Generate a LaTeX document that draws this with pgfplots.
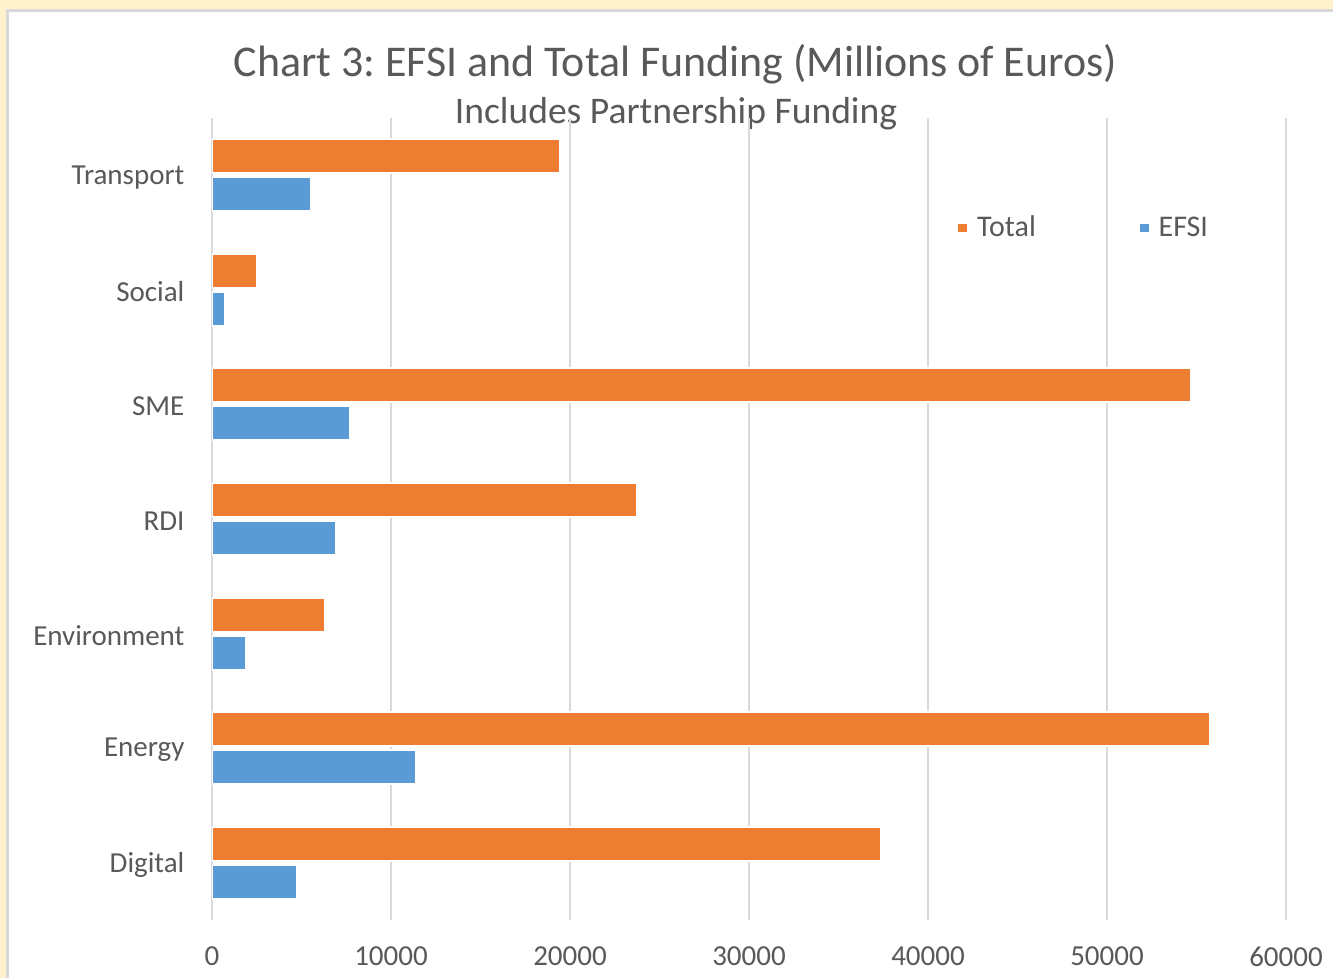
\documentclass[border=0pt]{standalone}
\usepackage{fontspec}
\setmainfont{Carlito}
\usepackage{pgfplots}
\pgfplotsset{compat=1.18}

\definecolor{xlorange}{HTML}{ED7D31}
\definecolor{xlblue}{HTML}{5B9BD5}
\definecolor{xlgrid}{HTML}{D9D9D9}
\definecolor{xltext}{HTML}{595959}
\definecolor{cream}{HTML}{FFF2CC}

\begin{document}
\frenchspacing
\begin{tikzpicture}
% page frame: cream border, thin shadow, white chart area
\path[use as bounding box] (0pt,0pt) rectangle (666.5pt,489pt);
\fill[cream] (0pt,0pt) rectangle (666.5pt,489pt);
\fill[xlgrid] (3pt,0pt) rectangle (666.5pt,484.5pt);
\fill[white] (4.5pt,0pt) rectangle (666.5pt,483pt);

\node[font=\fontsize{21.95}{25}\selectfont, text=xltext] at (337.75pt,457pt) {Chart 3: EFSI and Total Funding (Millions of Euros)};
\node[font=\fontsize{18.8}{21}\selectfont, text=xltext] at (338pt,432pt) {Includes Partnership Funding};

\begin{axis}[
    at={(106pt,29pt)}, anchor=south west,
    scale only axis,
    width=537pt, height=401pt,
    xbar, bar width=17pt,
    xmin=0, xmax=60000,
    ymin=-0.5, ymax=6.5,
    xtick={0,10000,...,60000},
    scaled x ticks=false,
    ytick={0,1,2,3,4,5,6},
    yticklabels={Digital,Energy,Environment,RDI,SME,Social,Transport},
    xmajorgrids,
    grid style={xlgrid, line width=1.2pt},
    axis line style={draw=none},
    tick style={draw=none},
    ticklabel style={font=\fontsize{14.5}{16}\selectfont, text=xltext},
    xticklabel style={yshift=-10pt},
    yticklabel style={xshift=-6pt, yshift=-1pt},
    /pgf/number format/assume math mode=true,
    /pgf/number format/set thousands separator={},
    legend columns=2,
    legend style={at={(0.6946,0.8628)}, anchor=west, draw=none, fill=none,
        inner sep=0pt, font=\fontsize{15}{17}\selectfont, text=xltext,
        /tikz/every odd column/.append style={column sep=3pt},
        /tikz/every even column/.append style={column sep=50pt}},
    legend image code/.code={\fill[#1,draw=none] (0pt,-2.2pt) rectangle (4.4pt,2.2pt);},
]
% Total
\addplot[fill=xlorange, draw=white, line width=1pt, bar shift=9.5pt] coordinates {
    (37370,0) (55750,1) (6310,2) (23740,3) (54690,4) (2510,5) (19440,6)
};
% EFSI
\addplot[fill=xlblue, draw=white, line width=1pt, bar shift=-9.5pt] coordinates {
    (4750,0) (11400,1) (1900,2) (6930,3) (7710,4) (730,5) (5530,6)
};
\legend{Total, EFSI}
\end{axis}
\end{tikzpicture}
\end{document}
